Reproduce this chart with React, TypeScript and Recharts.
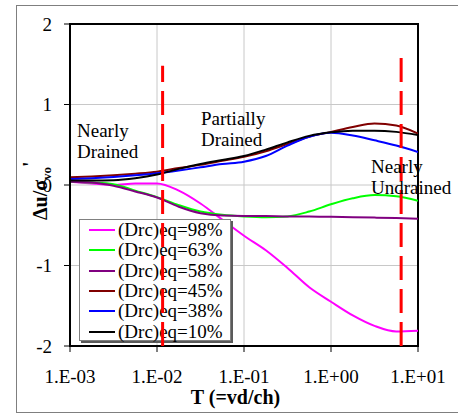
import { LineChart, Line, XAxis, YAxis, CartesianGrid, ReferenceArea } from "recharts";

// time factor T, sampled at quarter decades
const tValues = [0.001, 0.00178, 0.00316, 0.00562, 0.01, 0.0178, 0.0316, 0.0562, 0.1, 0.178, 0.316, 0.562, 1, 1.78, 3.16, 5.62, 10];

const drc98 = [0.04, 0.02, 0.0, 0.02, 0.02, -0.07, -0.23, -0.43, -0.63, -0.81, -1.03, -1.27, -1.45, -1.62, -1.75, -1.82, -1.81];
const drc63 = [0.04, 0.03, 0.01, -0.07, -0.15, -0.25, -0.33, -0.37, -0.39, -0.4, -0.39, -0.33, -0.24, -0.165, -0.125, -0.14, -0.195];
const drc58 = [0.04, 0.03, -0.01, -0.08, -0.155, -0.27, -0.35, -0.38, -0.385, -0.385, -0.39, -0.39, -0.395, -0.4, -0.405, -0.41, -0.42];
const drc45 = [0.095, 0.105, 0.12, 0.14, 0.165, 0.21, 0.25, 0.3, 0.35, 0.42, 0.51, 0.6, 0.66, 0.72, 0.765, 0.74, 0.64];
const drc38 = [0.075, 0.085, 0.1, 0.12, 0.145, 0.18, 0.22, 0.26, 0.29, 0.36, 0.49, 0.6, 0.65, 0.615, 0.555, 0.49, 0.41];
const drc10 = [0.055, 0.055, 0.06, 0.085, 0.13, 0.2, 0.26, 0.31, 0.36, 0.44, 0.53, 0.61, 0.655, 0.675, 0.675, 0.66, 0.62];

const xTicks = [0.001, 0.01, 0.1, 1, 10];
const yTicks = [-2, -1, 0, 1, 2];

// drainage boundaries: T and the top of each dashed line
const boundaryT = [0.0116, 6.4];
const boundaryTop = [1.48, 1.58];

const series = [
  { key: "d98", name: "(Drc)eq=98%", color: "#FF00FF", values: drc98 },
  { key: "d63", name: "(Drc)eq=63%", color: "#00FF00", values: drc63 },
  { key: "d58", name: "(Drc)eq=58%", color: "#800080", values: drc58 },
  { key: "d45", name: "(Drc)eq=45%", color: "#800000", values: drc45 },
  { key: "d38", name: "(Drc)eq=38%", color: "#0000FF", values: drc38 },
  { key: "d10", name: "(Drc)eq=10%", color: "#000000", values: drc10 },
];

const rows = tValues.map((t, i) => {
  const row: Record<string, number> = { t };
  series.forEach((s) => (row[s.key] = s.values[i]));
  return row;
});

// each boundary drawn bottom-up so the dash pattern starts at the axis
const boundaryData = boundaryT.map((t, i) => [
  { t, v: -2 },
  { t, v: boundaryTop[i] },
]);

const W = 458;
const H = 416;
const MARGIN = { top: 24, right: 40, bottom: 40, left: 20 };
const OVERLAY_MARGIN = { top: 24, right: 40, bottom: 70, left: 70 };
const FONT = "'Liberation Serif', 'Times New Roman', serif";

const fmtExp = (v: number) => {
  const e = Math.round(Math.log10(v));
  return `1.E${e < 0 ? "-" : "+"}${String(Math.abs(e)).padStart(2, "0")}`;
};

const tickStyle = { fill: "#000", fontSize: 19, fontFamily: FONT };

function Note({ left, top, lines }: { left: number; top: number; lines: string[] }) {
  return (
    <div style={{ position: "absolute", left, top, fontFamily: FONT, fontSize: 19, lineHeight: "21px", color: "#000", whiteSpace: "nowrap" }}>
      {lines.map((l) => (
        <div key={l}>{l}</div>
      ))}
    </div>
  );
}

export default function App() {
  return (
    <div style={{ position: "absolute", left: 0, top: 0, width: W, height: H, background: "#fff", overflow: "hidden" }}>
      <div style={{ position: "absolute", left: 16, top: 5, width: 460, height: 406, border: "1px solid #7f7f7f" }} />

      <div style={{ position: "absolute", left: 0, top: 0 }}>
        <LineChart width={W} height={H} data={rows} margin={MARGIN}>
          <CartesianGrid stroke="#c8c8c8" strokeWidth={1} />
          <ReferenceArea x1={0.001} x2={10} y1={-2} y2={2} fill="none" stroke="#000" strokeWidth={2} />
          <XAxis
            dataKey="t"
            type="number"
            scale="log"
            domain={[0.001, 10]}
            ticks={xTicks}
            tickFormatter={fmtExp}
            allowDataOverflow
            height={30}
            tickSize={6}
            tickMargin={18}
            tick={tickStyle}
            axisLine={{ stroke: "#000", strokeWidth: 2 }}
            tickLine={{ stroke: "#000", strokeWidth: 1 }}
          />
          <YAxis
            type="number"
            domain={[-2, 2]}
            ticks={yTicks}
            width={50}
            tickSize={6}
            tickMargin={12}
            tick={tickStyle}
            axisLine={{ stroke: "#000", strokeWidth: 2 }}
            tickLine={{ stroke: "#000", strokeWidth: 1 }}
          />
          {series.map((s) => (
            <Line
              key={s.key}
              dataKey={s.key}
              name={s.name}
              type="monotone"
              stroke={s.color}
              strokeWidth={2}
              dot={false}
              isAnimationActive={false}
            />
          ))}
        </LineChart>
      </div>

      {/* legend box */}
      <div
        style={{
          position: "absolute",
          left: 79,
          top: 219,
          width: 150,
          height: 120,
          background: "#fff",
          border: "1px solid #808080",
          boxShadow: "2px 2px 0 #5a5a5a",
          fontFamily: FONT,
          fontSize: 19,
        }}
      >
        {series.map((s) => (
          <div key={s.key} style={{ display: "flex", alignItems: "center", height: 20.3, whiteSpace: "nowrap" }}>
            <span style={{ display: "inline-block", width: 26, height: 2, marginLeft: 9, marginRight: 3, background: s.color }} />
            <span>{s.name}</span>
          </div>
        ))}
      </div>

      {/* drainage boundary lines sit above the legend */}
      <div style={{ position: "absolute", left: 0, top: 0 }}>
        <LineChart width={W} height={H} margin={OVERLAY_MARGIN}>
          <XAxis dataKey="t" type="number" scale="log" domain={[0.001, 10]} allowDataOverflow hide />
          <YAxis type="number" domain={[-2, 2]} allowDataOverflow hide />
          {boundaryData.map((d, i) => (
            <Line
              key={i}
              data={d}
              dataKey="v"
              type="linear"
              stroke="#FF0000"
              strokeWidth={3}
              strokeDasharray="24 9"
              dot={false}
              isAnimationActive={false}
            />
          ))}
        </LineChart>
      </div>

      <Note left={77} top={120} lines={["Nearly", "Drained"]} />
      <Note left={201} top={108} lines={["Partially", "Drained"]} />
      <Note left={371} top={156} lines={["Nearly", "Undrained"]} />

      <svg width={W} height={H} style={{ position: "absolute", left: 0, top: 0, pointerEvents: "none" }}>
        <text x={235.5} y={404} textAnchor="middle" fontFamily={FONT} fontSize={20} fontWeight="bold">
          T (=vd/ch)
        </text>
        <text
          x={46.7}
          y={220}
          transform="rotate(-90 46.7 220)"
          fontFamily={FONT}
          fontSize={20}
          fontWeight="bold"
        >
          Δu/σ
          <tspan fontSize={13} dy={4}>vo</tspan>
          <tspan dy={-14}>'</tspan>
        </text>
      </svg>
    </div>
  );
}
